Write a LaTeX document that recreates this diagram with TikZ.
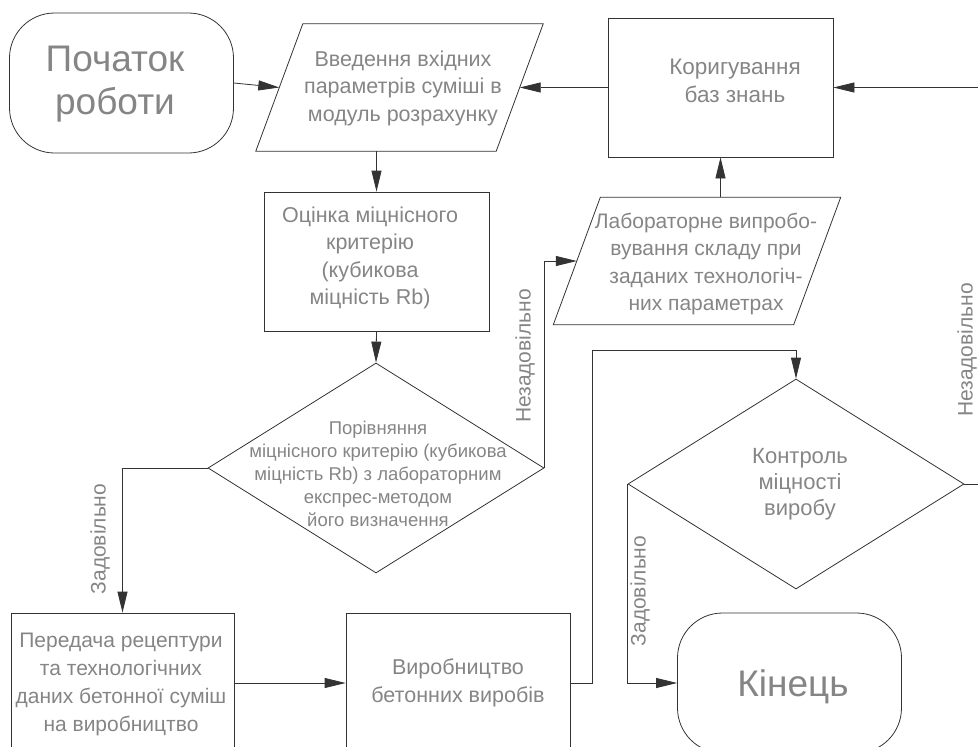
\documentclass[tikz,border=0pt]{standalone}
\usepackage{fontspec}
\setmainfont{Liberation Sans}
\usetikzlibrary{arrows.meta,shapes.geometric,calc}
\begin{document}
\begin{tikzpicture}[x=1pt,y=-1pt,
  ink/.style={draw=black!80, line width=0.8pt},
  arr/.style={ink, -{Triangle[length=21pt,width=10pt]}},
  txt/.style={text=black!48, font=\fontsize{21.5}{27.5}\selectfont, align=center, inner sep=0pt},
  smalltxt/.style={text=black!48, font=\fontsize{18.5}{23}\selectfont, align=center, inner sep=0pt},
  bigtxt/.style={text=black!48, font=\fontsize{37}{43}\selectfont, align=center, inner sep=0pt},
  procbox/.style={ink, rectangle, minimum width=225pt, minimum height=139pt, inner sep=0pt},
  termbox/.style={ink, rectangle, rounded corners=45pt, minimum width=224pt, minimum height=140pt, inner sep=0pt},
  ioframe/.style={rectangle, minimum width=240pt, minimum height=127pt, inner sep=0pt},
  decbox/.style={ink, diamond, minimum width=336pt, minimum height=210pt, inner sep=0pt},
  lbl/.style={txt, font=\fontsize{21}{25}\selectfont, rotate=90}
]
\useasboundingbox (0,0) rectangle (978,747);

% shapes
\node[termbox] (start) at (121.5,83) {};
\node[ioframe] (inp)   at (399.5,87.5) {};
\node[procbox] (kor)   at (720.5,87.5) {};
\node[procbox] (est)   at (376.5,261.5) {};
\node[ioframe] (lab)   at (697,261) {};
\node[decbox]  (d1)    at (376,468) {};
\node[procbox, minimum width=223pt, minimum height=140pt] (per) at (122.5,683) {};
\node[procbox, minimum width=224pt, minimum height=140pt] (vyr) at (458,683) {};
\node[decbox]  (d2)    at (796,484) {};
\node[termbox] (kin)   at (789.5,683) {};

% parallelogram outlines for the data blocks
\foreach \blk in {inp,lab}{
  \draw[ink] ($(\blk.south west)+(-23.5,0)$) -- ($(\blk.north west)+(23.5,0)$)
    -- ($(\blk.north east)+(23.5,0)$) -- ($(\blk.south east)+(-23.5,0)$) -- cycle;
}

% texts
\node[bigtxt] (startT) at (115,84) {Початок\\роботи};
\node[txt] (inpT) at (403,88) {Введення вхідних\\параметрів суміші в\\модуль розрахунку};
\node[txt, font=\fontsize{22.5}{28}\selectfont] (korT) at (735,81) {Коригування\\баз знань};
\node[txt] (estT) at (370,258) {Оцінка міцнісного\\критерію\\(кубикова\\міцність Rb)};
\node[txt, font=\fontsize{21}{27.5}\selectfont] (labT) at (706,264) {Лабораторне випробо-\\вування складу при\\заданих технологіч-\\них параметрах};
\node[smalltxt] (d1T) at (378,474) {Порівняння\\міцнісного критерію (кубикова\\міцність Rb) з лабораторним\\експрес-методом\\його визначення};
\node[txt, font=\fontsize{21}{28}\selectfont] (perT) at (121,684) {Передача рецептури\\та технологічних\\даних бетонної суміш\\на виробництво};
\node[txt] (vyrT) at (458,683) {Виробництво\\бетонних виробів};
\node[txt, font=\fontsize{22}{26}\selectfont] (d2T) at (800,484) {Контроль\\міцності\\виробу};
\node[bigtxt] (kinT) at (793,687) {Кінець};

% branch labels
\node[lbl] (no1)  at (525,356) {Незадовільно};
\node[lbl] (yes1) at (100,539) {Задовільно};
\node[lbl] (yes2) at (640,591) {Задовільно};
\node[lbl] (no2)  at (967,350) {Незадовільно};

% free ends at the right border
\coordinate (backIn) at (978,87.5);
\coordinate (backOut) at (978,484);
\coordinate (bend) at (592,350);

% connectors
\draw[arr] (start.east) -- (inp.west);
\draw[arr] (inp.south -| est.north) -- (est.north);
\draw[arr] (kor.west) -- (inp.east);
\draw[arr] (backIn) -- (kor.east);
\draw[arr] (est.south) -- (d1.north);
\draw[arr] (d1.east) |- (lab.west);
\draw[arr] (lab.north -| kor.south) -- (kor.south);
\draw[arr] (d1.west) -| (per.north);
\draw[arr] (per.east) -- (vyr.west);
\draw[arr] (vyr.east) -| (bend) -| (d2.north);
\draw[arr] (d2.west) |- (kin.west);
\draw[ink] (d2.east) -- (backOut);
\end{tikzpicture}
\end{document}
